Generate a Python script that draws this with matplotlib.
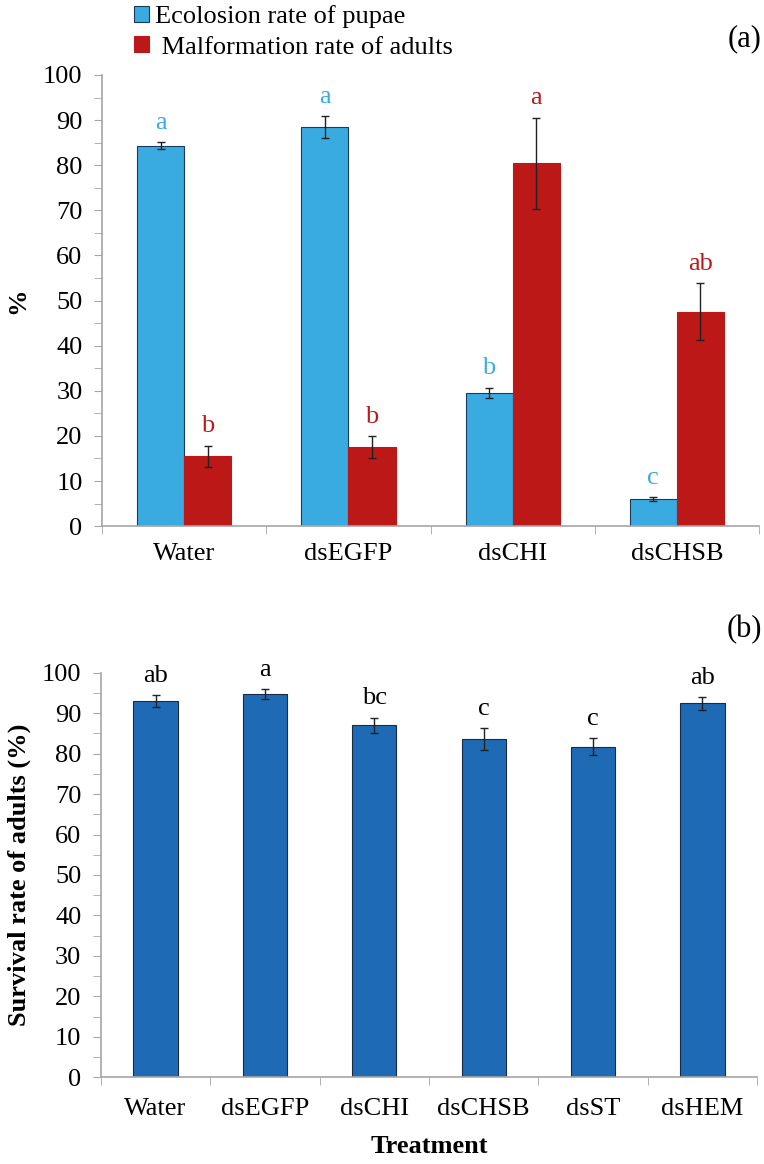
import numpy as np
import matplotlib.pyplot as plt

plt.rcParams['font.family'] = ['Liberation Serif', 'DejaVu Serif']

# panel (a)
groups_a = ["Water", "dsEGFP", "dsCHI", "dsCHSB"]
ecl = [84.3, 88.5, 29.6, 6.0]
ecl_err = [0.8, 2.4, 1.1, 0.4]
ecl_let = ["a", "a", "b", "c"]
mal = [15.5, 17.6, 80.4, 47.5]
mal_err = [2.3, 2.4, 10.1, 6.3]
mal_let = ["b", "b", "a", "ab"]

# panel (b)
groups_b = ["Water", "dsEGFP", "dsCHI", "dsCHSB", "dsST", "dsHEM"]
surv = [93.0, 94.7, 87.0, 83.6, 81.7, 92.4]
surv_err = [1.5, 1.2, 1.9, 2.7, 2.1, 1.6]
surv_let = ["ab", "a", "bc", "c", "c", "ab"]

blue = "#3AABE1"
red = "#BC1818"
dblue = "#1F6AB4"
grey = "#A6A6A6"
fs = 19

fig = plt.figure(figsize=(7.64, 11.64), dpi=100)
axa = fig.add_axes([0.1335, 0.548, 0.86, 0.3876])
axb = fig.add_axes([0.132, 0.0745, 0.859, 0.3476])


def style(ax, n, pad):
    for s in ["top", "right"]:
        ax.spines[s].set_visible(False)
    for s in ["left", "bottom"]:
        ax.spines[s].set_color(grey)
        ax.spines[s].set_linewidth(1.2)
    ax.set_ylim(0, 100)
    ax.set_xlim(-0.5, n - 0.5)
    ax.set_yticks(np.arange(0, 101, 10))
    ax.set_yticks(np.arange(0, 101, 5), minor=True)
    ax.tick_params(axis="y", which="both", length=6, color=grey, labelsize=fs, pad=8)
    ax.set_xticks(np.arange(n))
    ax.set_xticks(np.arange(n + 1) - 0.5, minor=True)
    ax.tick_params(axis="x", which="major", length=0, labelsize=fs, pad=pad)
    ax.tick_params(axis="x", which="minor", length=6, color=grey)


x = np.arange(len(groups_a))
w = 0.287
axa.bar(x - w / 2, ecl, w, color=blue, edgecolor="#1a3a5a", linewidth=0.8,
        label="Ecolosion rate of pupae")
axa.bar(x + w / 2, mal, w, color=red, edgecolor=red, linewidth=0.8,
        label=" Malformation rate of adults")
axa.errorbar(x - w / 2, ecl, yerr=ecl_err, fmt="none", ecolor="#222222", elinewidth=1, capsize=3)
axa.errorbar(x + w / 2, mal, yerr=mal_err, fmt="none", ecolor="#222222", elinewidth=1, capsize=3)
for i in range(len(x)):
    axa.annotate(ecl_let[i], (x[i] - w / 2, ecl[i] + ecl_err[i]), xytext=(0, 6),
                 textcoords="offset points", ha="center", va="bottom", fontsize=fs, color=blue)
    axa.annotate(mal_let[i], (x[i] + w / 2, mal[i] + mal_err[i]), xytext=(0, 6),
                 textcoords="offset points", ha="center", va="bottom", fontsize=fs, color=red)
style(axa, len(groups_a), 12)
axa.set_xticklabels(groups_a)
axa.set_ylabel("%", fontsize=fs, fontweight="bold", labelpad=10)
fig.legend(*axa.get_legend_handles_labels(), loc="upper left",
           bbox_to_anchor=(134 / 764, 1 - 5 / 1164), frameon=False, fontsize=fs,
           handlelength=0.55, handleheight=0.55, handletextpad=0.25, labelspacing=0.32,
           borderaxespad=0, borderpad=0)
fig.text(0.997, 1 - 39 / 1164, "(a)", ha="right", va="center", fontsize=22)

xb = np.arange(len(groups_b))
axb.bar(xb, surv, 0.405, color=dblue, edgecolor="#1a2a44", linewidth=0.8)
axb.errorbar(xb, surv, yerr=surv_err, fmt="none", ecolor="#222222", elinewidth=1, capsize=3)
for i in range(len(xb)):
    axb.annotate(surv_let[i], (xb[i], surv[i] + surv_err[i]), xytext=(0, 6),
                 textcoords="offset points", ha="center", va="bottom", fontsize=fs, color="black")
style(axb, len(groups_b), 15)
axb.set_xticklabels(groups_b)
axb.set_ylabel("Survival rate of adults (%)", fontsize=fs, fontweight="bold", labelpad=8)
axb.set_xlabel("Treatment", fontsize=fs, fontweight="bold", labelpad=11)
fig.text(0.997, 1 - 630 / 1164, "(b)", ha="right", va="center", fontsize=22)

fig.savefig("out.png", dpi=100)
